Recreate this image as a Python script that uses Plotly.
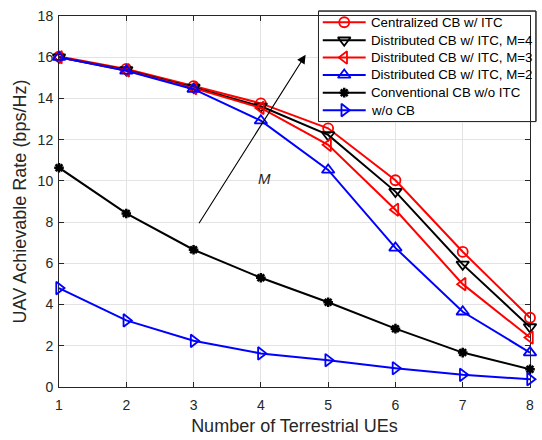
import plotly.graph_objects as go

# Number of terrestrial UEs
num_ues = [1, 2, 3, 4, 5, 6, 7, 8]

# UAV achievable rate (bps/Hz) for each scheme
centralized_itc = [16.03, 15.43, 14.6, 13.76, 12.55, 10.03, 6.56, 3.36]
distributed_m4 = [16.0, 15.38, 14.53, 13.62, 12.23, 9.48, 5.95, 2.91]
distributed_m3 = [16.0, 15.36, 14.5, 13.54, 11.75, 8.6, 4.99, 2.4]
distributed_m2 = [16.0, 15.34, 14.45, 12.92, 10.53, 6.75, 3.65, 1.67]
conventional_cb = [10.64, 8.42, 6.66, 5.3, 4.11, 2.83, 1.67, 0.86]
without_cb = [4.8, 3.23, 2.24, 1.63, 1.3, 0.91, 0.59, 0.38]

series_names = [
    "Centralized CB w/ ITC",
    "Distributed CB w/ ITC, M=4",
    "Distributed CB w/ ITC, M=3",
    "Distributed CB w/ ITC, M=2",
    "Conventional CB w/o ITC",
    "w/o CB",
]
series_values = [centralized_itc, distributed_m4, distributed_m3,
                 distributed_m2, conventional_cb, without_cb]

styles = [
    dict(color="#ff0000", symbol="circle-open", size=10),
    dict(color="#000000", symbol="triangle-down-open", size=11),
    dict(color="#ff0000", symbol="triangle-left-open", size=11),
    dict(color="#0000ff", symbol="triangle-up-open", size=11),
    dict(color="#000000", symbol="asterisk-open", size=8),
    dict(color="#0000ff", symbol="triangle-right-open", size=11),
]

W, H = 542, 440
ML, MR, MT, MB = 59, 8, 16, 49
PW, PH = W - ML - MR, H - MT - MB


def px_x(px):
    return (px - ML) / PW


def px_y(py):
    return (H - MB - py) / PH


def marker_of(st):
    lw = 2.5 if st["symbol"].startswith("asterisk") else 1.8
    return dict(symbol=st["symbol"], size=st["size"], color=st["color"],
                line=dict(color=st["color"], width=lw))


fig = go.Figure()
for name, vals, st in zip(series_names, series_values, styles):
    fig.add_trace(go.Scatter(
        x=num_ues, y=vals, name=name, mode="lines+markers",
        line=dict(color=st["color"], width=2), marker=marker_of(st),
        showlegend=False, cliponaxis=False,
    ))

# Trend arrow for increasing M
fig.add_annotation(
    x=4.665, y=16.12, ax=3.067, ay=7.87,
    xref="x", yref="y", axref="x", ayref="y",
    showarrow=True, arrowhead=2, arrowsize=1.6, arrowwidth=1.1,
    arrowcolor="#000000", text="",
)
fig.add_annotation(
    x=4.06, y=10.12, xref="x", yref="y", text="<i>M</i>",
    showarrow=False, font=dict(size=15, color="#262626"),
)

# Compact boxed legend (MATLAB-style) on an overlay axis spanning [0, 1]
box_l, box_t, box_r, box_b = 320.7, 11, 540, 122.7
row_y = [22.3, 40.5, 58.0, 75.6, 93.5, 111.2]
seg_l, seg_r, text_l = 325, 368.3, 371.5

bx0, bx1, by0, by1 = px_x(box_l), px_x(box_r), px_y(box_b), px_y(box_t)
fig.add_trace(go.Scatter(
    x=[bx0, bx1, bx1, bx0, bx0], y=[by0, by0, by1, by1, by0],
    mode="lines", fill="toself", fillcolor="white", line=dict(width=0),
    xaxis="x2", yaxis="y2", showlegend=False, hoverinfo="skip",
))
fig.add_shape(type="rect", xref="paper", yref="paper",
              x0=bx0, x1=bx1, y0=by0, y1=by1,
              line=dict(color="#262626", width=1), fillcolor="white", layer="below")
fig.add_shape(type="rect", xref="paper", yref="paper",
              x0=bx0, x1=bx1, y0=by0, y1=by1,
              line=dict(color="#262626", width=1), fillcolor="rgba(0,0,0,0)", layer="above")
for name, st, ry in zip(series_names, styles, row_y):
    yy = px_y(ry)
    fig.add_trace(go.Scatter(
        x=[px_x(seg_l), px_x(seg_r)], y=[yy, yy], mode="lines",
        line=dict(color=st["color"], width=2),
        xaxis="x2", yaxis="y2", showlegend=False, hoverinfo="skip",
    ))
    fig.add_trace(go.Scatter(
        x=[px_x((seg_l + seg_r) / 2)], y=[yy], mode="markers",
        marker=marker_of(st), xaxis="x2", yaxis="y2",
        showlegend=False, cliponaxis=False, hoverinfo="skip",
    ))
    fig.add_annotation(xref="paper", yref="paper", x=px_x(text_l), y=yy,
                       xanchor="left", yanchor="middle", text=name, showarrow=False,
                       font=dict(size=13.3, color="#000000"))

axis_common = dict(
    showline=True, linecolor="#262626", linewidth=1, layer="below traces",
    mirror="ticks", ticks="inside", ticklen=5, tickcolor="#262626",
    showgrid=True, gridcolor="#e3e3e3", gridwidth=1, zeroline=False,
    tickfont=dict(family="Liberation Sans, Arial, sans-serif", size=14, color="#262626"),
)

fig.update_layout(
    width=W, height=H,
    margin=dict(l=ML, r=MR, t=MT, b=MB),
    plot_bgcolor="white", paper_bgcolor="white",
    font=dict(family="Liberation Sans, Arial, sans-serif", color="#262626"),
    xaxis=dict(range=[1, 8], tickvals=num_ues, ticklabelstandoff=5, **axis_common,
               title=dict(text="Number of Terrestrial UEs", font=dict(size=18), standoff=7)),
    yaxis=dict(range=[0, 18], tickvals=list(range(0, 19, 2)), ticklabelstandoff=2, **axis_common,
               title=dict(text="UAV Achievable Rate (bps/Hz)", font=dict(size=18), standoff=6)),
    xaxis2=dict(overlaying="x", range=[0, 1], visible=False, fixedrange=True),
    yaxis2=dict(overlaying="y", range=[0, 1], visible=False, fixedrange=True),
    showlegend=False,
)

fig.write_html("out.html")
